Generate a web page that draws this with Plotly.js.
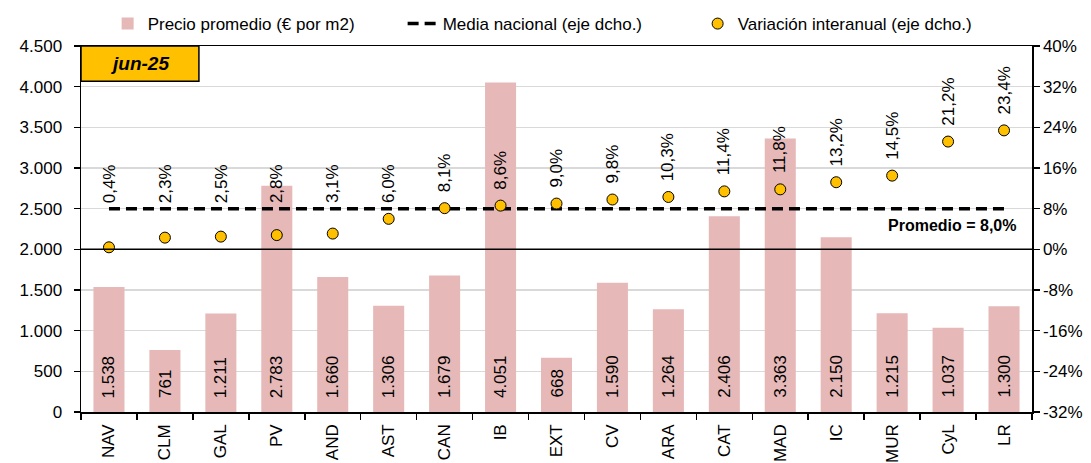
<!DOCTYPE html>
<html>
<head>
<meta charset="utf-8">
<script src="https://cdn.plot.ly/plotly-3.0.1.min.js"></script>
<style>
  html, body { margin: 0; padding: 0; background: #fff; }
  #chart { width: 1091px; height: 463px; }
</style>
</head>
<body>
<div id="chart"></div>
<script>
// ---- Data ----
const regiones = ["NAV","CLM","GAL","PV","AND","AST","CAN","IB","EXT","CV","ARA","CAT","MAD","IC","MUR","CyL","LR"];
const precioPromedio = [1538, 761, 1211, 2783, 1660, 1306, 1679, 4051, 668, 1590, 1264, 2406, 3363, 2150, 1215, 1037, 1300];
const variacionInteranual = [0.4, 2.3, 2.5, 2.8, 3.1, 6.0, 8.1, 8.6, 9.0, 9.8, 10.3, 11.4, 11.8, 13.2, 14.5, 21.2, 23.4];
const mediaNacional = [8.0, 8.0, 8.0, 8.0, 8.0, 8.0, 8.0, 8.0, 8.0, 8.0, 8.0, 8.0, 8.0, 8.0, 8.0, 8.0, 8.0];
const fechaEtiqueta = "jun-25";
const promedioTexto = "Promedio = 8,0%";
const leftTicks = [0, 500, 1000, 1500, 2000, 2500, 3000, 3500, 4000, 4500];
const rightTicks = [-32, -24, -16, -8, 0, 8, 16, 24, 32, 40];

// ---- Helpers ----
const FONT = "Liberation Sans, Arial, sans-serif";
const FS = 17;
function fmtMiles(n) {
  const s = String(Math.round(n));
  return s.replace(/\B(?=(\d{3})+(?!\d))/g, ".");
}
function fmtPct(v) { return v.toFixed(1).replace(".", ",") + "%"; }

const traces = [
  {
    type: "bar",
    name: "Precio promedio (€ por m2)",
    x: regiones,
    y: precioPromedio,
    marker: { color: "#E6B9B8" },
    yaxis: "y"
  },
  {
    type: "scatter",
    mode: "lines",
    name: "Media nacional (eje dcho.)",
    x: regiones,
    y: mediaNacional,
    yaxis: "y2",
    line: { color: "#000000", width: 3.5, dash: "11px,6px" }
  },
  {
    type: "scatter",
    mode: "markers",
    name: "Variación interanual (eje dcho.)",
    x: regiones,
    y: variacionInteranual,
    yaxis: "y2",
    marker: { color: "#FFC000", size: 11, line: { color: "#000000", width: 1 } }
  }
];

const annotations = [];
// bar value labels
regiones.forEach((r, i) => {
  annotations.push({
    x: r, y: 0, xref: "x", yref: "y",
    text: fmtMiles(precioPromedio[i]),
    textangle: -90, showarrow: false,
    yanchor: "bottom", xanchor: "center", yshift: 12,
    font: { family: FONT, size: FS, color: "#000" }
  });
});
// percentage labels
regiones.forEach((r, i) => {
  annotations.push({
    x: r, y: Math.max(variacionInteranual[i], 6.0), xref: "x", yref: "y2",
    text: fmtPct(variacionInteranual[i]),
    textangle: -90, showarrow: false,
    yanchor: "bottom", xanchor: "center", yshift: 14,
    font: { family: FONT, size: FS, color: "#000" }
  });
});
// promedio text
annotations.push({
  x: 0.986, xref: "paper", y: mediaNacional[0], yref: "y2",
  text: "<b>" + promedioTexto + "</b>",
  showarrow: false, xanchor: "right", yanchor: "top", yshift: -6,
  font: { family: FONT, size: 16, color: "#000" }
});
// date box
annotations.push({
  x: 0.062, xref: "paper", y: 0.952, yref: "paper",
  text: "<b><i>" + fechaEtiqueta + "</i></b>",
  showarrow: false, xanchor: "center", yanchor: "middle",
  font: { family: FONT, size: 19, color: "#000" }
});

const layout = {
  width: 1091, height: 463,
  margin: { l: 81, r: 59, t: 46, b: 51, autoexpand: false },
  paper_bgcolor: "#fff", plot_bgcolor: "#fff",
  separators: ",.",
  font: { family: FONT, size: FS, color: "#000" },
  bargap: 0.445,
  showlegend: true,
  legend: {
    orientation: "h", x: 0.028, xanchor: "left", y: 1.06, yanchor: "middle",
    entrywidth: 250, entrywidthmode: "pixels",
    font: { family: FONT, size: FS, color: "#000" },
    bgcolor: "rgba(0,0,0,0)"
  },
  xaxis: {
    type: "category", range: [-0.5, regiones.length - 0.5], autorange: false,
    showline: true, linecolor: "#000", linewidth: 1.5, mirror: true,
    ticks: "outside", tickson: "boundaries", ticklen: 6, tickcolor: "#000", tickwidth: 1.5,
    tickangle: -90, tickfont: { family: FONT, size: FS }, ticklabelstandoff: 4,
    showgrid: false, automargin: false, fixedrange: true
  },
  yaxis: {
    range: [0, 4500], tickvals: leftTicks, ticktext: leftTicks.map(fmtMiles),
    showline: true, linecolor: "#000", linewidth: 1.5,
    ticks: "outside", ticklen: 6, tickcolor: "#000", tickwidth: 1.5,
    ticklabelstandoff: 8,
    showgrid: true, gridcolor: "#D9D9D9", gridwidth: 1.2,
    zeroline: false, automargin: false,
    tickfont: { family: FONT, size: FS }
  },
  yaxis2: {
    range: [-32, 40], tickvals: rightTicks, ticktext: rightTicks.map(v => v + "%"),
    overlaying: "y", side: "right",
    showline: true, linecolor: "#000", linewidth: 1.5,
    ticks: "outside", ticklen: 6, tickcolor: "#000", tickwidth: 1.5,
    showgrid: false, zeroline: false, automargin: false,
    tickfont: { family: FONT, size: FS }
  },
  shapes: [
    { type: "line", xref: "paper", x0: 0, x1: 1, yref: "y2", y0: 0, y1: 0,
      line: { color: "#000", width: 1.5 }, layer: "above" },
    { type: "rect", xref: "paper", x0: 0, x1: 0.124, yref: "paper", y0: 0.904, y1: 1,
      fillcolor: "#FFC000", line: { color: "#000", width: 1.5 }, layer: "above" }
  ],
  annotations: annotations
};

Plotly.newPlot("chart", traces, layout, { displayModeBar: false, staticPlot: true });
</script>
</body>
</html>
